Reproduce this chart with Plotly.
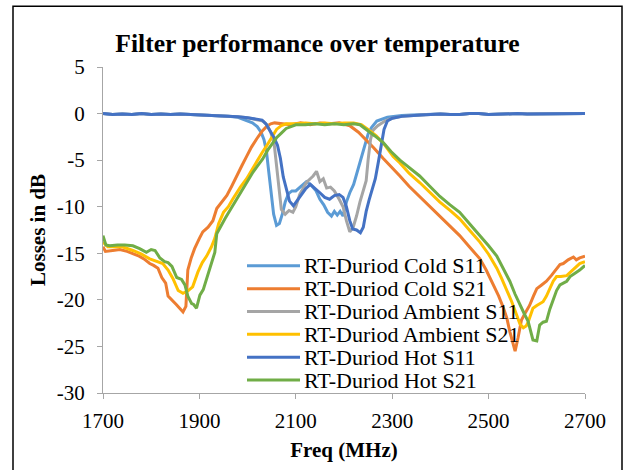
import plotly.graph_objects as go

# ---------------- data ----------------
cold_s11_f = [1700,1720,1740,1760,1780,1800,1820,1840,1860,1880,1900,1920,1940,1960,1980,1990,2000,2010,2020,2028,2034,2039,2044,2049,2054,2060,2066,2072,2078,2085,2092,2100,2110,2122,2132,2142,2150,2158,2166,2174,2180,2186,2192,2198,2205,2212,2220,2228,2236,2243,2250,2257,2268,2290,2320,2340,2360,2380,2400,2420,2440,2460,2480,2500,2520,2540,2560,2580,2600,2620,2640,2660,2680,2700]
cold_s11 = [0.0,-0.1,-0.05,-0.1,0.0,-0.1,-0.05,-0.1,-0.05,-0.1,-0.1,-0.15,-0.2,-0.3,-0.4,-0.6,-0.8,-1.0,-1.4,-2.0,-2.8,-4.0,-6.3,-8.8,-10.8,-12.0,-11.8,-10.8,-9.5,-8.6,-8.3,-8.3,-7.8,-7.3,-7.7,-8.3,-9.2,-9.8,-10.6,-11.0,-10.5,-10.9,-10.5,-11.0,-9.5,-8.5,-7.6,-6.2,-4.6,-3.4,-2.2,-1.5,-0.8,-0.4,-0.2,-0.15,-0.1,-0.05,-0.05,-0.1,-0.1,0.0,0.0,-0.1,-0.05,0.0,0.0,-0.05,-0.05,0.0,0.0,-0.05,-0.05,0.0]

cold_s21_f = [1700,1705,1720,1735,1750,1762,1775,1785,1797,1805,1814,1822,1830,1835,1845,1852,1859,1866,1872,1876,1883,1890,1900,1907,1918,1928,1936,1945,1957,1967,1977,1988,1998,2008,2019,2030,2039,2048,2056,2070,2090,2110,2130,2150,2170,2190,2200,2212,2230,2246,2262,2281,2300,2316,2335,2357,2378,2399,2420,2440,2460,2482,2495,2510,2521,2531,2538,2544,2550,2555,2561,2568,2576,2585,2593,2600,2610,2620,2630,2641,2648,2655,2665,2676,2682,2689,2700]
cold_s21 = [-14.3,-14.8,-14.7,-14.6,-14.8,-15.0,-15.3,-15.6,-16.1,-16.3,-16.6,-17.6,-18.2,-19.6,-20.2,-20.5,-20.9,-21.3,-20.7,-16.8,-15.5,-14.5,-13.4,-12.7,-12.2,-11.5,-10.2,-9.6,-8.8,-7.8,-6.7,-5.6,-4.6,-3.6,-2.7,-1.9,-1.4,-1.1,-1.0,-1.1,-1.2,-1.0,-1.2,-1.0,-1.1,-1.0,-1.1,-1.3,-2.0,-2.8,-3.7,-4.8,-5.8,-6.7,-7.8,-8.9,-10.0,-11.0,-12.1,-13.1,-14.3,-15.6,-16.8,-18.4,-19.6,-20.9,-22.0,-23.4,-24.6,-25.5,-24.1,-22.2,-21.4,-20.6,-19.6,-18.8,-18.4,-18.0,-17.4,-16.6,-16.2,-16.1,-15.7,-15.4,-15.7,-15.5,-15.3]

amb_s11_f = [1700,1720,1740,1760,1780,1800,1820,1840,1860,1880,1900,1920,1940,1960,1980,2000,2020,2032,2040,2048,2055,2060,2065,2070,2078,2086,2094,2100,2108,2115,2122,2130,2136,2143,2150,2157,2164,2172,2180,2190,2198,2205,2212,2219,2226,2233,2240,2246,2250,2255,2260,2270,2285,2300,2320,2340,2360,2380,2400,2420,2440,2460,2480,2500,2520,2540,2560,2580,2600,2620,2640,2660,2680,2700]
amb_s11 = [0.0,-0.1,-0.05,-0.1,0.0,-0.1,-0.05,-0.1,-0.05,-0.1,-0.1,-0.15,-0.2,-0.3,-0.35,-0.45,-0.65,-0.8,-1.2,-2.0,-3.2,-5.5,-8.5,-10.3,-10.8,-10.4,-10.6,-10.0,-8.7,-8.0,-7.4,-7.0,-6.7,-6.2,-7.3,-7.0,-8.0,-7.9,-8.3,-9.2,-10.0,-11.5,-12.7,-12.2,-11.0,-9.5,-8.3,-7.2,-5.0,-2.8,-1.8,-1.3,-0.8,-0.5,-0.3,-0.2,-0.15,-0.1,-0.05,-0.1,-0.1,0.0,0.0,-0.1,-0.05,0.0,0.0,-0.05,-0.05,0.0,0.0,-0.05,-0.05,0.0]

amb_s21_f = [1700,1710,1720,1740,1762,1780,1797,1810,1824,1835,1845,1856,1866,1877,1886,1897,1906,1915,1925,1932,1940,1950,1960,1969,1985,1998,2010,2019,2030,2039,2050,2060,2070,2080,2100,2120,2140,2160,2180,2200,2220,2236,2250,2267,2285,2302,2316,2335,2357,2378,2399,2420,2440,2460,2482,2500,2517,2527,2537,2548,2558,2565,2572,2578,2582,2588,2592,2600,2613,2620,2627,2634,2641,2650,2662,2670,2676,2683,2689,2700]
amb_s21 = [-13.8,-14.3,-14.3,-14.3,-14.7,-15.1,-15.6,-15.8,-16.1,-16.8,-17.7,-19.0,-19.3,-19.0,-18.6,-17.0,-16.0,-15.3,-14.3,-13.4,-11.8,-10.6,-10.0,-9.2,-7.9,-7.0,-5.9,-5.2,-4.2,-3.5,-2.5,-1.7,-1.3,-1.1,-1.1,-1.0,-1.1,-1.0,-1.1,-1.0,-1.0,-1.2,-1.7,-2.4,-3.4,-4.6,-5.3,-6.4,-7.4,-8.5,-9.5,-10.4,-11.3,-12.5,-13.8,-15.1,-16.6,-17.7,-18.8,-20.2,-21.6,-22.6,-23.0,-22.8,-22.4,-21.5,-20.9,-20.6,-20.2,-19.6,-18.8,-18.0,-17.5,-17.5,-17.4,-17.0,-16.7,-16.4,-16.1,-15.9]

hot_s11_f = [1700,1720,1740,1760,1780,1800,1820,1840,1860,1880,1900,1920,1940,1960,1980,2000,2020,2030,2038,2046,2055,2062,2068,2074,2080,2087,2095,2102,2110,2120,2130,2140,2150,2160,2170,2180,2190,2198,2205,2212,2218,2226,2234,2240,2246,2252,2258,2265,2272,2278,2283,2290,2300,2320,2340,2360,2380,2400,2420,2440,2460,2480,2500,2520,2540,2560,2580,2600,2620,2640,2660,2680,2700]
hot_s11 = [0.0,-0.1,-0.05,-0.1,0.0,-0.1,-0.05,-0.1,-0.05,-0.1,-0.1,-0.15,-0.2,-0.3,-0.35,-0.45,-0.6,-0.7,-1.1,-1.8,-2.6,-3.4,-4.8,-6.8,-8.0,-9.4,-9.9,-9.4,-8.8,-8.1,-7.6,-8.0,-8.5,-9.0,-9.2,-8.8,-8.7,-9.0,-10.0,-11.5,-12.4,-12.5,-12.8,-12.2,-10.5,-9.3,-8.3,-7.0,-5.0,-3.0,-1.7,-0.8,-0.5,-0.3,-0.2,-0.15,-0.1,-0.05,-0.1,-0.1,0.0,0.0,-0.1,-0.05,0.0,0.0,-0.05,-0.05,0.0,0.0,-0.05,-0.05,0.0]

hot_s21_f = [1700,1706,1714,1730,1745,1762,1776,1790,1800,1808,1818,1828,1835,1843,1853,1863,1870,1876,1884,1888,1894,1901,1908,1915,1924,1932,1936,1945,1953,1961,1969,1980,1990,2000,2011,2021,2031,2042,2052,2060,2070,2080,2090,2100,2120,2140,2160,2180,2200,2220,2233,2247,2264,2281,2298,2316,2335,2357,2378,2399,2420,2440,2460,2482,2500,2517,2530,2544,2555,2565,2575,2582,2588,2592,2600,2606,2613,2620,2627,2634,2641,2648,2655,2662,2669,2676,2683,2689,2695,2700]
hot_s21 = [-13.1,-14.1,-14.2,-14.1,-14.1,-14.2,-14.5,-14.9,-14.6,-14.7,-15.5,-15.9,-16.0,-16.4,-17.6,-17.8,-18.4,-19.6,-20.4,-20.5,-20.9,-19.5,-18.9,-17.7,-16.3,-14.9,-12.9,-12.0,-11.3,-10.6,-9.9,-9.0,-8.1,-7.2,-6.3,-5.6,-4.9,-3.9,-3.1,-2.6,-2.1,-1.6,-1.4,-1.2,-1.2,-1.1,-1.2,-1.1,-1.2,-1.1,-1.2,-1.7,-2.4,-3.1,-4.1,-5.0,-5.8,-6.7,-7.8,-8.9,-9.8,-10.6,-11.8,-13.1,-14.2,-15.3,-16.6,-18.0,-19.4,-20.6,-21.6,-22.3,-23.5,-24.3,-24.4,-22.7,-22.4,-22.3,-21.0,-19.9,-19.0,-18.4,-18.2,-18.0,-17.5,-17.2,-17.0,-16.8,-16.5,-16.3]

series_names = ["RT-Duriod Cold S11", "RT-Duriod Cold S21", "RT-Duriod Ambient S11",
                "RT-Duriod Ambient S21", "RT-Duriod Hot S11", "RT-Duriod Hot S21"]
series_x = [cold_s11_f, cold_s21_f, amb_s11_f, amb_s21_f, hot_s11_f, hot_s21_f]
series_y = [cold_s11, cold_s21, amb_s11, amb_s21, hot_s11, hot_s21]
colors = ["#5B9BD5", "#ED7D31", "#A5A5A5", "#FFC000", "#4472C4", "#70AD47"]

x_ticks = [1700, 1900, 2100, 2300, 2500, 2700]
y_ticks = [5, 0, -5, -10, -15, -20, -25, -30]

# ---------------- layout geometry ----------------
W, H = 628, 470
L, R, T, B = 103, 43, 67, 75
PW, PH = W - L - R, H - T - B

def px(x):
    return (x - L) / PW

def py(y):
    return (H - B - y) / PH

FONT = "Liberation Serif, Times New Roman, serif"
AX = "#A6A6A6"

fig = go.Figure()
for name, xs, ys, c in zip(series_names, series_x, series_y, colors):
    fig.add_trace(go.Scatter(x=xs, y=ys, mode="lines", name=name,
                             line=dict(color=c, width=3), showlegend=False))

shapes = [dict(type="rect", xref="paper", yref="paper",
               x0=px(13), x1=px(622), y0=py(480), y1=py(6),
               line=dict(color="black", width=1.5), layer="below")]
annotations = []
for i, (name, c) in enumerate(zip(series_names, colors)):
    yy = 267 + 23 * i
    shapes.append(dict(type="line", xref="paper", yref="paper",
                       x0=px(247), x1=px(300), y0=py(yy), y1=py(yy),
                       line=dict(color=c, width=3)))
    annotations.append(dict(xref="paper", yref="paper", x=px(302), y=py(yy),
                            xanchor="left", yanchor="middle", showarrow=False,
                            text=name, font=dict(family=FONT, size=22, color="black")))

fig.update_layout(
    width=W, height=H,
    margin=dict(l=L, r=R, t=T, b=B),
    paper_bgcolor="white", plot_bgcolor="white",
    font=dict(family=FONT, size=21, color="black"),
    title=dict(text="<b>Filter performance over temperature</b>",
               x=317.5 / W, xref="container", xanchor="center",
               y=1 - 43 / H, yref="container", yanchor="middle",
               font=dict(family=FONT, size=25.6, color="black")),
    xaxis=dict(range=[1700, 2700], tickvals=x_ticks, ticktext=[str(v) for v in x_ticks],
               showgrid=False, zeroline=False, showline=True, linecolor=AX, linewidth=1,
               ticks="outside", ticklen=5, tickcolor=AX, tickwidth=1,
               tickfont=dict(family=FONT, size=21), ticklabelstandoff=4,
               title=dict(text="<b>Freq (MHz)</b>", font=dict(family=FONT, size=21), standoff=10)),
    yaxis=dict(range=[-30, 5], tickvals=y_ticks, ticktext=[str(v) for v in y_ticks],
               showgrid=False, zeroline=False, showline=True, linecolor=AX, linewidth=1,
               ticks="outside", ticklen=5, tickcolor=AX, tickwidth=1,
               tickfont=dict(family=FONT, size=21), ticklabelstandoff=8,
               title=dict(text="<b>Losses in dB</b>", font=dict(family=FONT, size=21), standoff=5)),
    shapes=shapes, annotations=annotations,
    showlegend=False,
)

fig.write_html("out.html")
